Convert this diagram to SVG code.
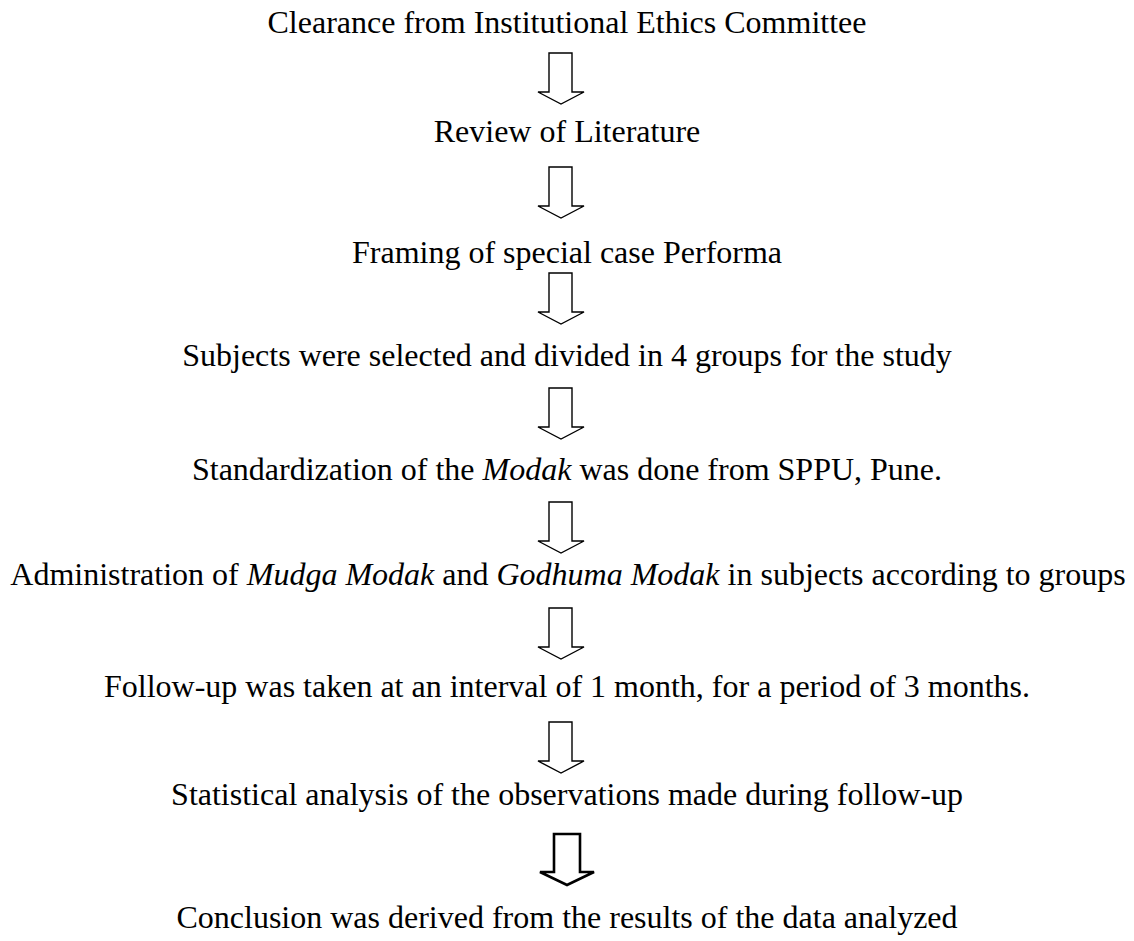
<svg xmlns="http://www.w3.org/2000/svg" width="1134" height="941" viewBox="0 0 1134 941">
<style>
text{font-family:"Liberation Serif","Times New Roman",serif;font-size:32px;fill:#000;text-anchor:middle}
.i{font-style:italic}
.arr{fill:#fff;stroke:#000;stroke-width:1.4;stroke-linejoin:miter}
.arr2{fill:#fff;stroke:#000;stroke-width:2.6;stroke-linejoin:miter}
</style>
<defs>
<path id="a" d="M0,0 H23 V39 H35 L12,51 L-11,39 H0 Z"/>
</defs>
<rect width="1134" height="941" fill="#fff"/>
<g id="connectors">
<use href="#a" class="arr" x="549" y="53"/>
<use href="#a" class="arr" x="549" y="167"/>
<use href="#a" class="arr" x="549" y="273"/>
<use href="#a" class="arr" x="549" y="388"/>
<use href="#a" class="arr" x="549" y="502"/>
<use href="#a" class="arr" x="549" y="608"/>
<use href="#a" class="arr" x="549" y="722"/>
<path class="arr2" d="M554,834 H580 V872 H594 L567,885 L540,872 H554 Z"/>
</g>
<g id="n1"><text x="567" y="33">Clearance from Institutional Ethics Committee</text></g>
<g id="n2"><text x="567" y="142">Review of Literature</text></g>
<g id="n3"><text x="567" y="263">Framing of special case Performa</text></g>
<g id="n4"><text x="567" y="366">Subjects were selected and divided in 4 groups for the study</text></g>
<g id="n5"><text x="567" y="480">Standardization of the <tspan class="i">Modak</tspan> was done from SPPU, Pune.</text></g>
<g id="n6"><text x="568" y="585">Administration of <tspan class="i">Mudga Modak</tspan> and <tspan class="i">Godhuma Modak</tspan> in subjects according to groups</text></g>
<g id="n7"><text x="567" y="697">Follow-up was taken at an interval of 1 month, for a period of 3 months.</text></g>
<g id="n8"><text x="567" y="805">Statistical analysis of the observations made during follow-up</text></g>
<g id="n9"><text x="567" y="928">Conclusion was derived from the results of the data analyzed</text></g>
</svg>
